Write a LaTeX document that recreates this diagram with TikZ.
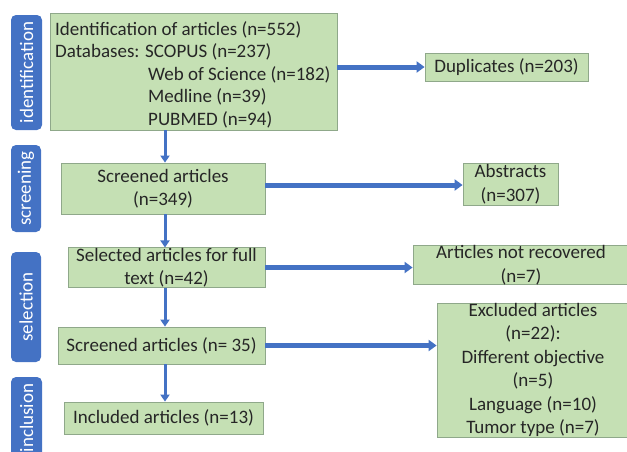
\documentclass[tikz,border=0pt]{standalone}
\usepackage{fontspec}
\setmainfont{Carlito}
\usetikzlibrary{arrows.meta}
\definecolor{boxgreen}{HTML}{C5E0B4}
\definecolor{boxedge}{HTML}{8FA88A}
\definecolor{flowblue}{HTML}{4472C4}
\definecolor{inkgrey}{HTML}{262626}
\begin{document}
\begin{tikzpicture}[x=1pt,y=-1pt,
  stage/.style={draw=boxedge, line width=0.8pt, fill=boxgreen, inner sep=0pt,
    align=center, text=inkgrey, font=\fontsize{19}{23.5}\selectfont},
  phase/.style={fill=flowblue, rounded corners=5pt, rotate=90, inner sep=0pt,
    text=white, font=\fontsize{19}{22}\selectfont},
  flow/.style={draw=flowblue, line width=5pt, -{Triangle[width=11pt,length=8pt]}},
  down/.style={draw=flowblue, line width=3pt, -{Triangle[width=9pt,length=7pt]}}]
\useasboundingbox (0,0) rectangle (627,451);

% phase labels on the left
\node[phase, minimum width=115pt, minimum height=31pt] (pid) at (26.5,72.5) {identification};
\node[phase, minimum width=87pt, minimum height=30pt] (pscr) at (26,188.5) {screening};
\node[phase, minimum width=110pt, minimum height=30pt] (psel) at (26,307) {selection};
\node[phase, minimum width=82pt, minimum height=31pt] (pinc) at (26.5,418) {inclusion};

% main column
\node[stage, minimum width=287pt, minimum height=117pt] (idbox) at (193.5,71.5) {};
\node[anchor=north west, inner sep=0pt, align=left, text=inkgrey,
      font=\fontsize{19}{22.5}\selectfont] (idtext) at (55,21)
  {Identification of articles (n=552)\\
   Databases: SCOPUS (n=237)\\
   \hspace*{93pt}Web of Science (n=182)\\
   \hspace*{93pt}Medline (n=39)\\
   \hspace*{93pt}PUBMED (n=94)};
\node[stage, minimum width=204pt, minimum height=51pt] (scr) at (163,188.5) {Screened articles\\(n=349)};
\node[stage, minimum width=197pt, minimum height=39pt] (sel) at (166.5,267.5) {Selected articles for full\\text (n=42)};
\node[stage, minimum width=207pt, minimum height=37pt] (scr35) at (161.5,345.5) {Screened articles (n= 35)};
\node[stage, minimum width=199pt, minimum height=32pt] (incl) at (163.5,418) {Included articles (n=13)};

% excluded records on the right
\node[stage, minimum width=163pt, minimum height=28pt] (dup) at (506.5,67) {Duplicates (n=203)};
\node[stage, minimum width=95pt, minimum height=42pt] (abs) at (510.5,184) {Abstracts\\(n=307)};
\node[stage, minimum width=216pt, minimum height=38pt] (nrec) at (521,265) {Articles not recovered\\(n=7)};
\node[stage, minimum width=192pt, minimum height=134pt] (excl) at (533,370)
  {Excluded articles\\(n=22):\\Different objective\\(n=5)\\Language (n=10)\\Tumor type (n=7)};

% downward flow
\draw[down] (idbox.south -| 165,0) -- (scr.north -| 165,0);
\draw[down] (scr.south -| 165,0) -- (sel.north -| 165,0);
\draw[down] (sel.south -| 165,0) -- (scr35.north -| 165,0);
\draw[down] (scr35.south -| 165,0) -- (incl.north -| 165,0);

% sideways flow to exclusions
\draw[flow] (idbox.east |- dup.west) -- (dup.west);
\draw[flow] (scr.east |- 0,185) -- (abs.west |- 0,185);
\draw[flow] (sel.east) -- (sel.east -| nrec.west);
\draw[flow] (scr35.east) -- (scr35.east -| excl.west);
\end{tikzpicture}
\end{document}
